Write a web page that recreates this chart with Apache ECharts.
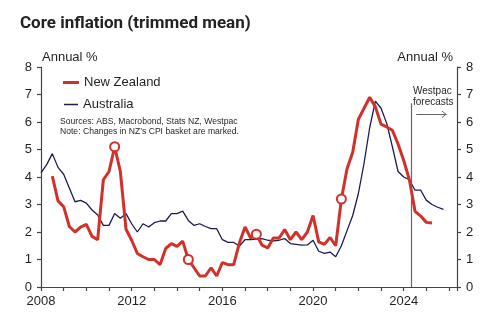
<!DOCTYPE html>
<html><head><meta charset="utf-8">
<script src="https://cdn.jsdelivr.net/npm/echarts@6/dist/echarts.min.js"></script>
<style>html,body{margin:0;padding:0;background:#fff}#c{width:498px;height:336px}</style>
</head><body><div id="c"></div>
<script>
// Quarterly data, first quarter of each series given by start year/quarter
const auStart = [2008, 1];
const auValues = [4.15,4.45,4.85,4.35,4.1,3.6,3.1,3.15,3.05,2.8,2.62,2.24,2.24,2.67,2.5,2.67,
  2.3,2.0,2.3,2.18,2.34,2.4,2.4,2.67,2.67,2.76,2.42,2.24,2.3,2.2,2.12,2.12,
  1.72,1.62,1.62,1.49,1.72,1.72,1.74,1.76,1.7,1.68,1.7,1.76,1.58,1.55,1.52,1.53,
  1.7,1.3,1.22,1.27,1.1,1.5,2.05,2.6,3.4,4.5,5.8,6.76,6.5,5.95,5.1,4.2,
  4.0,3.9,3.52,3.52,3.15,3.0,2.9,2.82];
const nzStart = [2008, 3];
const nzValues = [4.03,3.13,2.92,2.2,2.0,2.18,2.28,1.84,1.72,3.9,4.2,5.1,4.2,2.1,
  1.7,1.22,1.1,1.0,1.0,0.81,1.4,1.58,1.48,1.67,1.0,0.7,0.4,0.4,0.7,0.4,
  0.89,0.81,0.81,1.6,2.18,1.78,1.92,1.52,1.42,1.78,1.78,2.09,1.72,2.0,1.72,2.0,
  2.6,1.64,1.55,1.8,1.5,3.2,4.3,4.9,6.1,6.5,6.9,6.55,5.92,5.82,5.7,5.2,
  4.6,3.9,2.75,2.58,2.35,2.33];
// NZ CPI basket changes (quarters marked)
const nzBasketChanges = ['2011Q2','2014Q3','2017Q3','2021Q2'];
const forecastStart = 2024.33;
const xTickLabels = [2008, 2012, 2016, 2020, 2024];
const yTicks = [0,1,2,3,4,5,6,7,8];

function qToYear(y, q){ return y + (q-1)/4; }
function build(start, vals){
  const s = qToYear(start[0], start[1]);
  return vals.map((v,i)=>[s + i/4, v]);
}
const auData = build(auStart, auValues);
const nzData = build(nzStart, nzValues);
const markerData = nzBasketChanges.map(s=>{
  const yr = +s.slice(0,4), q = +s.slice(5);
  const x = qToYear(yr,q);
  return nzData.find(d=>Math.abs(d[0]-x)<1e-6);
});

const RED = '#d1312b', NAVY = '#1c1c4e', TXT = '#231f20', AX = '#444';
const FONT = '"Liberation Sans", Arial, sans-serif';

const chart = echarts.init(document.getElementById('c'), null, {renderer:'canvas'});
const yAxisCommon = {
  type:'value', min: yTicks[0], max: yTicks[yTicks.length-1], interval:1,
  splitLine:{show:false},
  axisLine:{show:true, lineStyle:{color:AX, width:1.2}},
  axisTick:{show:true, length:4, lineStyle:{color:AX, width:1.2}},
  axisLabel:{color:TXT, fontSize:13, fontFamily:FONT, margin:9}
};
chart.setOption({
  animation:false,
  grid:{left:41, right:41, top:67, bottom:49},
  xAxis:{type:'value', min:2008, max:2026.35, interval:1,
    splitLine:{show:false},
    axisLine:{show:true, onZero:false, lineStyle:{color:AX, width:1.2}},
    axisTick:{show:true, length:4, lineStyle:{color:AX, width:1.2}},
    axisLabel:{color:TXT, fontSize:13, fontFamily:FONT, margin:8,
      formatter:v=> xTickLabels.includes(v) ? String(v) : ''}
  },
  yAxis:[Object.assign({position:'left'}, yAxisCommon), Object.assign({position:'right'}, yAxisCommon)],
  legend:[
    {data:[{name:'New Zealand', icon:'rect', itemStyle:{color:RED}}], left:63, top:76, itemWidth:16, itemHeight:3,
     itemGap:4, textStyle:{color:TXT, fontSize:13, fontFamily:FONT}, padding:0},
    {data:[{name:'Australia', icon:'rect', itemStyle:{color:NAVY}}], left:64, top:98, itemWidth:14, itemHeight:1.5,
     textStyle:{color:TXT, fontSize:13, fontFamily:FONT}, padding:0}
  ],
  graphic:[
    {type:'text', left:20, top:15, style:{text:'Core inflation (trimmed mean)', fill:'#222', font:'bold 17px Roboto, sans-serif'}},
    {type:'text', left:42, top:51, style:{text:'Annual %', fill:TXT, font:'13px '+FONT}},
    {type:'text', right:45, top:51, style:{text:'Annual %', fill:TXT, font:'13px '+FONT}},
    {type:'text', left:60, top:117, style:{text:'Sources: ABS, Macrobond, Stats NZ, Westpac\nNote: Changes in NZ\u2019s CPI basket are marked.', fill:TXT, font:'8.6px '+FONT, lineHeight:10}},
    {type:'text', left:413, top:86, style:{text:'Westpac\nforecasts', fill:TXT, font:'10px '+FONT, align:'center', lineHeight:11}},
    {type:'polyline', shape:{points:[[442,111],[446,114.3],[442,117.6]]}, style:{stroke:'#666', lineWidth:1, fill:null}}
  ],
  series:[
    {name:'Australia', type:'line', data:auData, symbol:'none', lineStyle:{color:NAVY, width:1.3}, itemStyle:{color:NAVY}, z:2,
      markLine:{silent:true, symbol:'none', label:{show:false},
        lineStyle:{color:'#666', width:1.2, type:'solid'},
        data:[
          [{coord:[forecastStart,0]},{coord:[forecastStart,6.68]}],
          [{coord:[2024.55,6.27], lineStyle:{width:1}},{coord:[2025.89,6.27]}]
        ]}},
    {name:'New Zealand', type:'line', data:nzData, symbol:'none', lineStyle:{color:RED, width:3}, itemStyle:{color:RED}, z:3},
    {name:'basket', type:'scatter', data:markerData, symbol:'circle', symbolSize:9,
      itemStyle:{color:'#fff', borderColor:RED, borderWidth:2, opacity:1}, z:4}
  ]
});
</script></body></html>
